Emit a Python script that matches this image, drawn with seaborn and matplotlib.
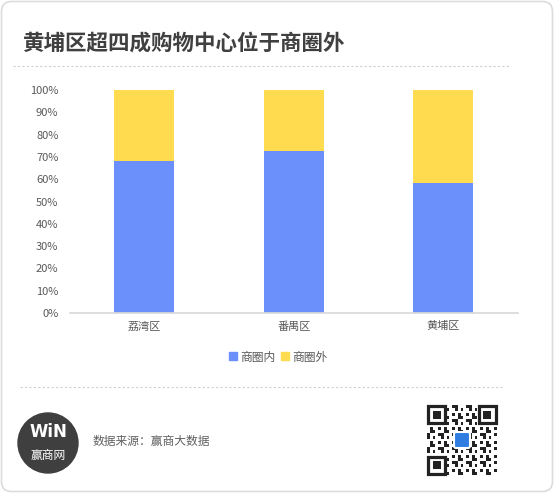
import numpy as np
import pandas as pd
import seaborn as sns
import matplotlib.pyplot as plt
from matplotlib.patches import FancyBboxPatch, Circle, Rectangle
from matplotlib.lines import Line2D

# data
districts = ['荔湾区', '番禺区', '黄埔区']
inside = [68.3, 72.8, 58.4]
outside = [31.7, 27.2, 41.6]
series_names = ['商圈内', '商圈外']

BLUE = '#6b8ffb'
YELLOW = '#fedb4f'

sns.set_theme(style='white')
plt.rcParams['font.family'] = ['Noto Sans CJK SC', 'DejaVu Sans']

W, H = 554, 493
fig = plt.figure(figsize=(W / 100, H / 100), dpi=100)

# decoration layer in pixel coords
bg = fig.add_axes([0, 0, 1, 1])
bg.set_xlim(0, W)
bg.set_ylim(H, 0)
bg.axis('off')
bg.add_patch(FancyBboxPatch((1.5, 1.5), W - 3, H - 3,
                            boxstyle='round,pad=0,rounding_size=10',
                            fc='white', ec='#dcdcdc', lw=1.2))
bg.text(22, 43, '黄埔区超四成购物中心位于商圈外', fontsize=15.5, fontweight='bold',
        color='#404040', va='center', ha='left')
bg.plot([13, 511], [66, 66], ls=(0, (2, 2)), color='#cfcfcf', lw=0.8)
bg.plot([20, 503], [387, 387], ls=(0, (2, 2)), color='#cfcfcf', lw=0.8)

# logo
bg.add_patch(Circle((48, 443), 30, color='#3f3f3f'))
bg.text(48, 432, 'WiN', fontsize=12, fontweight='heavy', color='white',
        ha='center', va='center', family='DejaVu Sans')
bg.text(48, 455, '赢商网', fontsize=8.5, color='white', ha='center', va='center')
bg.text(93, 441, '数据来源：赢商大数据', fontsize=8.5, color='#606060',
        ha='left', va='center')

# qr-like placeholder
qx, qy, qs = 427, 405, 70
n = 25
cell = qs / n
for i in range(n):
    for j in range(n):
        if (i * 7 + j * 3 + i * j) % 5 in (0, 2):
            bg.add_patch(Rectangle((qx + j * cell, qy + i * cell), cell, cell,
                                   color='#222222', lw=0))
for fx, fy in [(0, 0), (n - 7, 0), (0, n - 7)]:
    bg.add_patch(Rectangle((qx + fx * cell, qy + fy * cell), 7 * cell, 7 * cell,
                           color='white', lw=0))
    bg.add_patch(Rectangle((qx + fx * cell + cell / 2, qy + fy * cell + cell / 2),
                           6 * cell, 6 * cell, fc='none', ec='#222222', lw=2.3))
    bg.add_patch(Rectangle((qx + (fx + 2) * cell, qy + (fy + 2) * cell),
                           3 * cell, 3 * cell, color='#222222', lw=0))
bg.add_patch(FancyBboxPatch((qx + qs / 2 - 8, qy + qs / 2 - 8), 16, 16,
                            boxstyle='round,pad=0,rounding_size=2',
                            fc='#2f7de1', ec='white', lw=1.5))

# chart
df = pd.DataFrame({'district': districts, 'inside': inside,
                   'total': np.array(inside) + np.array(outside)})
ax = fig.add_axes([69.5 / W, 1 - 313 / H, 448.5 / W, 223 / H])
sns.barplot(data=df, x='district', y='total', color=YELLOW, width=0.4,
            saturation=1, linewidth=0, ax=ax)
sns.barplot(data=df, x='district', y='inside', color=BLUE, width=0.4,
            saturation=1, linewidth=0, ax=ax)
ax.set_ylim(0, 100)
ax.set_yticks(range(0, 101, 10))
ax.set_yticklabels([f'{v}%' for v in range(0, 101, 10)])
ax.set_xlabel('')
ax.set_ylabel('')
ax.patch.set_alpha(0)
for s in ['left', 'right', 'top']:
    ax.spines[s].set_visible(False)
ax.spines['bottom'].set_color('#d9d9d9')
ax.tick_params(axis='both', length=0, labelsize=8, colors='#595959')
ax.tick_params(axis='x', pad=6)
ax.tick_params(axis='y', pad=8)

handles = [Line2D([], [], marker='s', ls='', color=c, markersize=6)
           for c in (BLUE, YELLOW)]
fig.legend(handles, series_names, loc='center', bbox_to_anchor=(0.5, 1 - 357 / H),
           ncol=2, frameon=False, fontsize=8.5, handletextpad=0.0,
           handlelength=1.2, columnspacing=0.2, labelcolor='#595959')

fig.savefig('out.png', dpi=100)
